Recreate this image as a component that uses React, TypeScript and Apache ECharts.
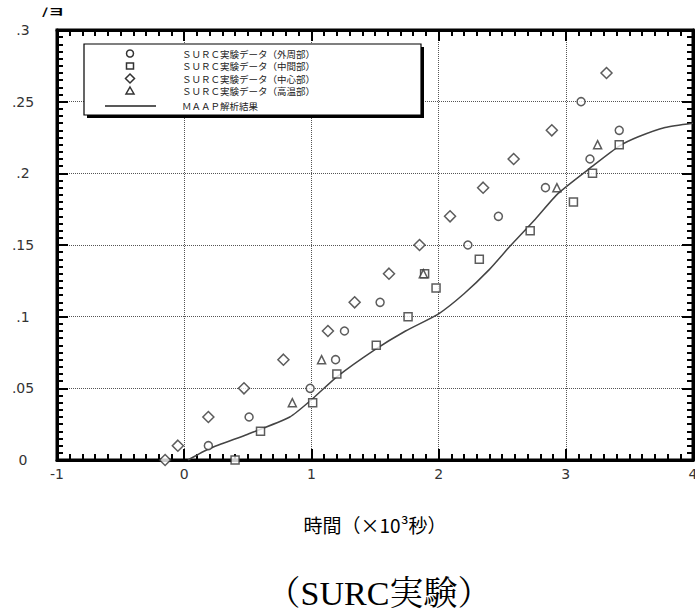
import React, { useEffect, useRef } from "react";
import * as echarts from "echarts";

// ---- data ----
const xTickLabels = ["-1", "0", "1", "2", "3", "4"];
const yTickLabels = ["0", ".05", ".1", ".15", ".2", ".25", ".3"];

const seriesNames = [
  "ＳＵＲＣ実験データ（外周部）",
  "ＳＵＲＣ実験データ（中間部）",
  "ＳＵＲＣ実験データ（中心部）",
  "ＳＵＲＣ実験データ（高温部）",
  "ＭＡＡＰ解析結果",
];

const outerData = [
  [0.19, 0.01], [0.51, 0.03], [0.99, 0.05], [1.19, 0.07], [1.26, 0.09],
  [1.54, 0.11], [2.23, 0.15], [2.47, 0.17], [2.84, 0.19], [3.19, 0.21],
  [3.12, 0.25], [3.42, 0.23],
];
const middleData = [
  [0.4, 0.0], [0.6, 0.02], [1.01, 0.04], [1.2, 0.06], [1.51, 0.08],
  [1.76, 0.1], [1.89, 0.13], [1.98, 0.12], [2.32, 0.14], [2.72, 0.16],
  [3.06, 0.18], [3.21, 0.2], [3.42, 0.22],
];
const centerData = [
  [-0.15, 0.0], [-0.05, 0.01], [0.19, 0.03], [0.47, 0.05], [0.78, 0.07],
  [1.13, 0.09], [1.34, 0.11], [1.61, 0.13], [1.85, 0.15], [2.09, 0.17],
  [2.35, 0.19], [2.59, 0.21], [2.89, 0.23], [3.32, 0.27],
];
const hotData = [
  [0.85, 0.04], [1.08, 0.07], [1.88, 0.13], [2.93, 0.19], [3.25, 0.22],
];
const maapData = [
  [0.03, 0.0], [0.2, 0.008], [0.5, 0.018], [0.83, 0.03], [1.0, 0.042],
  [1.2, 0.058], [1.5, 0.077], [1.74, 0.09], [2.0, 0.102], [2.2, 0.116],
  [2.4, 0.133], [2.57, 0.15], [2.76, 0.168], [2.94, 0.186], [3.21, 0.205],
  [3.42, 0.219], [3.57, 0.2255], [3.78, 0.232], [4.0, 0.235],
];

const xAxisName = "時間（×10³秒）";
const bottomTitle = "（SURC実験）";

const axisLineStyle = { show: true, onZero: false, lineStyle: { color: "#000", width: 3 } };
const axisTickStyle = { show: true, inside: true, length: 11, lineStyle: { color: "#000", width: 2 } };
const minorTickStyle = { show: true, splitNumber: 10, length: 6, lineStyle: { color: "#000", width: 2 } };
const gridLineStyle = { show: true, lineStyle: { color: "#555", width: 1, type: "dotted" } };
const tickFont = { color: "#333", fontSize: 14, fontFamily: "DejaVu Sans" };
const markerStyle = { color: "#fff", borderColor: "#333", borderWidth: 1.5 };

function makeOption() {
  const iconStyle = { fill: "#fff", stroke: "#333", lineWidth: 1.5 };
  const legendX = 130;
  const textX = 182;
  const rows = [53.5, 66, 78.5, 91, 106];
  const legendTexts = seriesNames.map((n, i) => ({
    type: "text", x: textX, y: rows[i],
    style: {
      text: n, fontSize: 9.5, lineHeight: 11, fontFamily: "Noto Sans CJK JP",
      fill: "#222", verticalAlign: "middle", align: "left",
    },
    z: 102,
  }));
  return {
    animation: false,
    grid: {
      left: 57, right: 2, top: 30, bottom: 152, outerBoundsMode: "none",
      show: true, borderColor: "#000", borderWidth: 3, backgroundColor: "transparent",
    },
    xAxis: [
      {
        type: "value", min: -1, max: 4, interval: 1, position: "bottom",
        axisLine: axisLineStyle, axisTick: axisTickStyle, minorTick: minorTickStyle,
        splitLine: gridLineStyle,
        axisLabel: { ...tickFont, margin: 7, formatter: (x: number) => xTickLabels[Math.round(x + 1)] ?? "" },
        name: xAxisName, nameLocation: "middle", nameGap: 55,
        nameTextStyle: { fontSize: 19, color: "#000", fontFamily: "Noto Sans CJK JP" },
      },
      {
        type: "value", min: -1, max: 4, interval: 1, position: "top",
        axisLine: axisLineStyle, axisTick: axisTickStyle, minorTick: minorTickStyle,
        axisLabel: { show: false }, splitLine: { show: false },
      },
    ],
    yAxis: [
      {
        type: "value", min: 0, max: 0.3, interval: 0.05, position: "left",
        axisLine: axisLineStyle, axisTick: axisTickStyle, minorTick: minorTickStyle,
        splitLine: gridLineStyle,
        axisLabel: { ...tickFont, margin: 34, align: "center", formatter: (y: number) => yTickLabels[Math.round(y / 0.05)] ?? "" },
      },
      {
        type: "value", min: 0, max: 0.3, interval: 0.05, position: "right",
        axisLine: axisLineStyle, axisTick: axisTickStyle, minorTick: minorTickStyle,
        axisLabel: { show: false }, splitLine: { show: false },
      },
    ],
    series: [
      { type: "scatter", name: seriesNames[0], data: outerData, symbol: "circle", symbolSize: 8, itemStyle: markerStyle, z: 5 },
      { type: "scatter", name: seriesNames[1], data: middleData, symbol: "rect", symbolSize: 8, itemStyle: markerStyle, z: 5 },
      { type: "scatter", name: seriesNames[2], data: centerData, symbol: "diamond", symbolSize: 11, itemStyle: markerStyle, z: 5 },
      { type: "scatter", name: seriesNames[3], data: hotData, symbol: "triangle", symbolSize: 8, itemStyle: markerStyle, z: 6 },
      { type: "line", name: seriesNames[4], data: maapData, showSymbol: false, symbol: "none", smooth: 0.2, lineStyle: { color: "#444", width: 1.5 }, z: 4 },
    ],
    graphic: [
      { type: "rect", shape: { x: 87, y: 47, width: 337, height: 71 }, style: { fill: "#000" }, z: 100 },
      { type: "rect", shape: { x: 84, y: 44, width: 337, height: 71 }, style: { fill: "#fff", stroke: "#000", lineWidth: 1.2 }, z: 101 },
      { type: "circle", shape: { cx: legendX, cy: rows[0], r: 3.5 }, style: iconStyle, z: 102 },
      { type: "rect", shape: { x: legendX - 3.5, y: rows[1] - 3, width: 7, height: 6 }, style: iconStyle, z: 102 },
      { type: "polygon", shape: { points: [[legendX, rows[2] - 4.5], [legendX + 4.5, rows[2]], [legendX, rows[2] + 4.5], [legendX - 4.5, rows[2]]] }, style: iconStyle, z: 102 },
      { type: "polygon", shape: { points: [[legendX, rows[3] - 4], [legendX + 4, rows[3] + 3], [legendX - 4, rows[3] + 3]] }, style: iconStyle, z: 102 },
      { type: "line", shape: { x1: 105, y1: rows[4], x2: 156, y2: rows[4] }, style: { stroke: "#222", lineWidth: 1.5 }, z: 102 },
      ...legendTexts,
      { type: "text", x: 42, y: 6, scaleY: 0.6, style: { text: "/ヨ", fontSize: 16, fontWeight: "bold", fill: "#000", fontFamily: "Noto Sans CJK JP" }, z: 102 },
      {
        type: "text", x: 379, y: 593,
        style: {
          text: bottomTitle, fontSize: 34, fill: "#000",
          fontFamily: "'Liberation Serif', 'Noto Serif CJK JP', 'Noto Sans CJK JP'",
          align: "center", verticalAlign: "middle",
        },
        z: 102,
      },
    ],
  };
}

function Chart() {
  const ref = useRef<HTMLDivElement>(null);
  useEffect(() => {
    if (!ref.current) return;
    const chart = echarts.init(ref.current, null, { renderer: "svg" });
    chart.setOption(makeOption() as any);
    return () => chart.dispose();
  }, []);
  return <div ref={ref} style={{ width: 695, height: 612, display: "inline-block" }} />;
}

export default function App() {
  useEffect(() => {
    document.body.style.margin = "0";
  }, []);
  return (
    <div style={{ width: 695, height: 612, fontSize: 0 }}>
      <Chart />
    </div>
  );
}
